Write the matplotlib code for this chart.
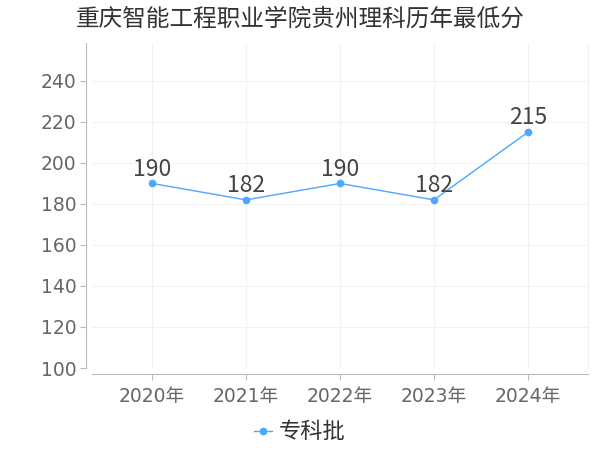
import matplotlib
matplotlib.use("Agg")
import matplotlib.pyplot as plt

plt.rcParams['font.family'] = ['Noto Sans CJK SC', 'DejaVu Sans']

title = "重庆智能工程职业学院贵州理科历年最低分"
years = ["2020年", "2021年", "2022年", "2023年", "2024年"]
scores = [190, 182, 190, 182, 215]
series_name = "专科批"
y_ticks = [100, 120, 140, 160, 180, 200, 220, 240]

line_color = "#4da6ff"
tick_fonts = ['DejaVu Sans', 'Noto Sans CJK SC']

fig = plt.figure(figsize=(6, 4.5), dpi=100)
ax = fig.add_axes([92 / 600, (450 - 368) / 450, (588 - 92) / 600, (368 - 43) / 450])

x = list(range(len(years)))
ax.plot(x, scores, color=line_color, linewidth=1, marker="o", markersize=4.5,
        label=series_name)
for xi, v in zip(x, scores):
    ax.annotate(str(v), (xi, v), xytext=(0, 2), textcoords="offset points",
                ha="center", va="bottom", fontsize=16.5, color="#444444")

ax.set_xlim(-0.64, 4.64)
ax.set_ylim(100, 258.5)
ax.set_xticks(x)
ax.set_xticklabels(years)
ax.set_yticks(y_ticks)
ax.tick_params(axis="both", labelsize=13.5, labelfontfamily=tick_fonts,
               labelcolor="#666666", color="#bbbbbb", length=4, width=0.8)
ax.tick_params(axis="x", pad=6)
ax.tick_params(axis="y", pad=3)

ax.grid(True, color="#f2f2f2", linewidth=0.8)
ax.set_axisbelow(True)
ax.spines["top"].set_visible(False)
ax.spines["right"].set_color("#f2f2f2")
ax.spines["left"].set_color("#bbbbbb")
ax.spines["bottom"].set_color("#bbbbbb")
ax.spines["left"].set_position(("outward", 4))
ax.spines["bottom"].set_position(("outward", 4))

fig.suptitle(title, x=0.5, y=1 - 19 / 450, va="center", fontsize=17, color="#333333")

leg = fig.legend(loc="center", bbox_to_anchor=(0.5, 1 - 432 / 450), frameon=False,
                 fontsize=16, handlelength=0.8, handletextpad=0.3)
for t in leg.get_texts():
    t.set_color("#333333")

fig.savefig("out.png", dpi=100)
